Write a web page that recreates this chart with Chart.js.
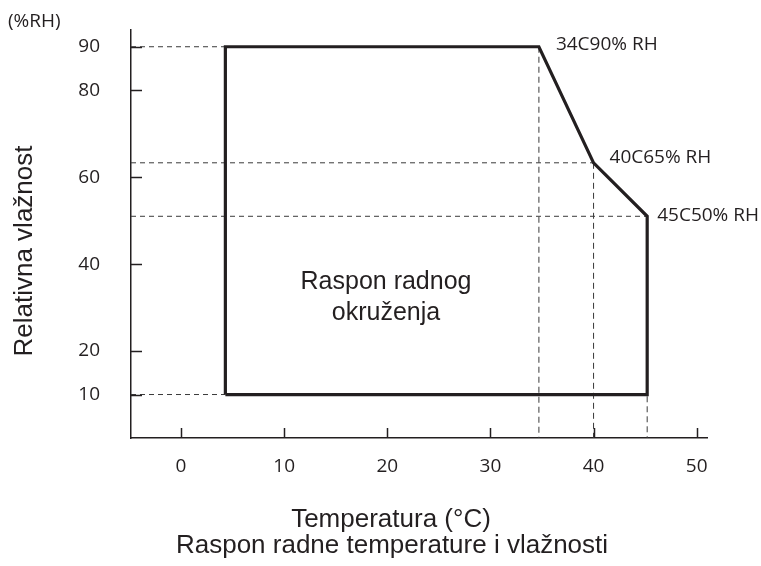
<!DOCTYPE html>
<html><head><meta charset="utf-8">
<script src="https://cdn.jsdelivr.net/npm/chart.js@4.4.1/dist/chart.umd.min.js"></script>
<style>html,body{margin:0;padding:0;background:#fff}#wrap{width:761px;height:566px}</style>
</head><body><div id="wrap"><canvas id="c" width="761" height="566"></canvas></div>
<script>
// ---- data ----
const xTicks = [0, 10, 20, 30, 40, 50];
const yTicks = [10, 20, 40, 60, 80, 90];
const envelopeX = [4.3, 4.3, 34.7, 40, 45.2, 45.2, 4.3];
const envelopeY = [10, 90, 90, 63.3, 51, 10, 10];
const hGuideX = [4.3, 40, 45.2, 4.3];
const hGuideY = [90, 63.3, 51, 10];
const vGuideX = [34.7, 40, 45.2];
const vGuideY = [90, 63.3, 51];
const cornerLabels = ["34C90% RH", "40C65% RH", "45C50% RH"];
const cornerX = [34.7, 40, 45.2];
const cornerY = [90, 63.3, 51];
const xRange = [-4.85, 51];
const yRange = [0, 93.85];
const yUnit = "(%RH)";
const yTitle = "Relativna vlažnost";
const xTitle = ["Temperatura (°C)", "Raspon radne temperature i vlažnosti"];
const areaText = ["Raspon radnog", "okruženja"];

// ---- styles ----
const INK = '#231f20';
const labelDx = [17, 16, 10];
const labelDy = [-2, -5, -1];

const datasets = [];
datasets.push({
  data: envelopeX.map((x, i) => ({x, y: envelopeY[i]})),
  showLine: true, borderColor: INK, borderWidth: 3.2, pointRadius: 0,
  borderJoinStyle: 'miter', fill: false, order: 0, tension: 0
});
hGuideX.forEach((x, i) => datasets.push({
  data: [{x: xRange[0], y: hGuideY[i]}, {x, y: hGuideY[i]}],
  showLine: true, borderColor: '#3a3a3a', borderWidth: 1, borderDash: [5, 4],
  pointRadius: 0, order: 2
}));
vGuideX.forEach((x, i) => datasets.push({
  data: [{x, y: vGuideY[i]}, {x, y: yRange[0]}],
  showLine: true, borderColor: '#3a3a3a', borderWidth: 1, borderDash: [6, 4],
  pointRadius: 0, order: 2
}));

const decor = {
  id: 'decor',
  afterDraw(chart) {
    const ctx = chart.ctx, xs = chart.scales.x, ys = chart.scales.y;
    ctx.save();
    ctx.strokeStyle = INK; ctx.lineWidth = 1.5;
    xTicks.forEach(v => {
      const p = Math.round(xs.getPixelForValue(v)) + 0.5;
      ctx.beginPath(); ctx.moveTo(p, ys.bottom); ctx.lineTo(p, ys.bottom - 10); ctx.stroke();
    });
    yTicks.forEach(v => {
      const p = Math.round(ys.getPixelForValue(v)) + 0.5;
      ctx.beginPath(); ctx.moveTo(xs.left, p); ctx.lineTo(xs.left + 11, p); ctx.stroke();
    });
    ctx.fillStyle = INK;
    ctx.font = '19px "Open Sans"';
    ctx.textAlign = 'left'; ctx.textBaseline = 'middle';
    cornerLabels.forEach((t, i) => {
      ctx.fillText(t, xs.getPixelForValue(cornerX[i]) + labelDx[i], ys.getPixelForValue(cornerY[i]) + labelDy[i]);
    });
    ctx.fillText(yUnit, 8, 22);
    ctx.font = '25px "Liberation Sans"';
    ctx.textAlign = 'center'; ctx.textBaseline = 'alphabetic';
    ctx.fillText(areaText[0], 386, 289);
    ctx.fillText(areaText[1], 386, 320);
    ctx.font = '26px "Liberation Sans"';
    ctx.textBaseline = 'middle';
    ctx.fillText(xTitle[0], 391, 520);
    ctx.fillText(xTitle[1], 392, 546);
    ctx.save();
    ctx.translate(25, 251); ctx.rotate(-Math.PI / 2);
    ctx.fillText(yTitle, 0, 0);
    ctx.restore();
    ctx.restore();
  }
};

new Chart(document.getElementById('c'), {
  type: 'scatter',
  data: {datasets},
  options: {
    responsive: false, animation: false, devicePixelRatio: 1,
    layout: {padding: {left: 0, top: 30, right: 54, bottom: 0}},
    plugins: {legend: {display: false}, tooltip: {enabled: false}},
    scales: {
      x: {
        type: 'linear', min: xRange[0], max: xRange[1],
        afterBuildTicks: s => { s.ticks = xTicks.map(v => ({value: v})); },
        afterFit: s => { s.height = 128; s.paddingLeft = 0; s.paddingRight = 0; },
        grid: {display: false},
        border: {display: true, color: INK, width: 1.5},
        ticks: {color: INK, font: {family: 'Open Sans', size: 19}, padding: 9, maxRotation: 0}
      },
      y: {
        type: 'linear', min: yRange[0], max: yRange[1],
        afterBuildTicks: s => { s.ticks = yTicks.map(v => ({value: v})); },
        afterFit: s => { s.width = 131; s.paddingTop = 0; s.paddingBottom = 0; },
        grid: {display: false},
        border: {display: true, color: INK, width: 1.5},
        ticks: {color: INK, font: {family: 'Open Sans', size: 19}, padding: 23}
      }
    }
  },
  plugins: [decor]
});
</script>
</body></html>
